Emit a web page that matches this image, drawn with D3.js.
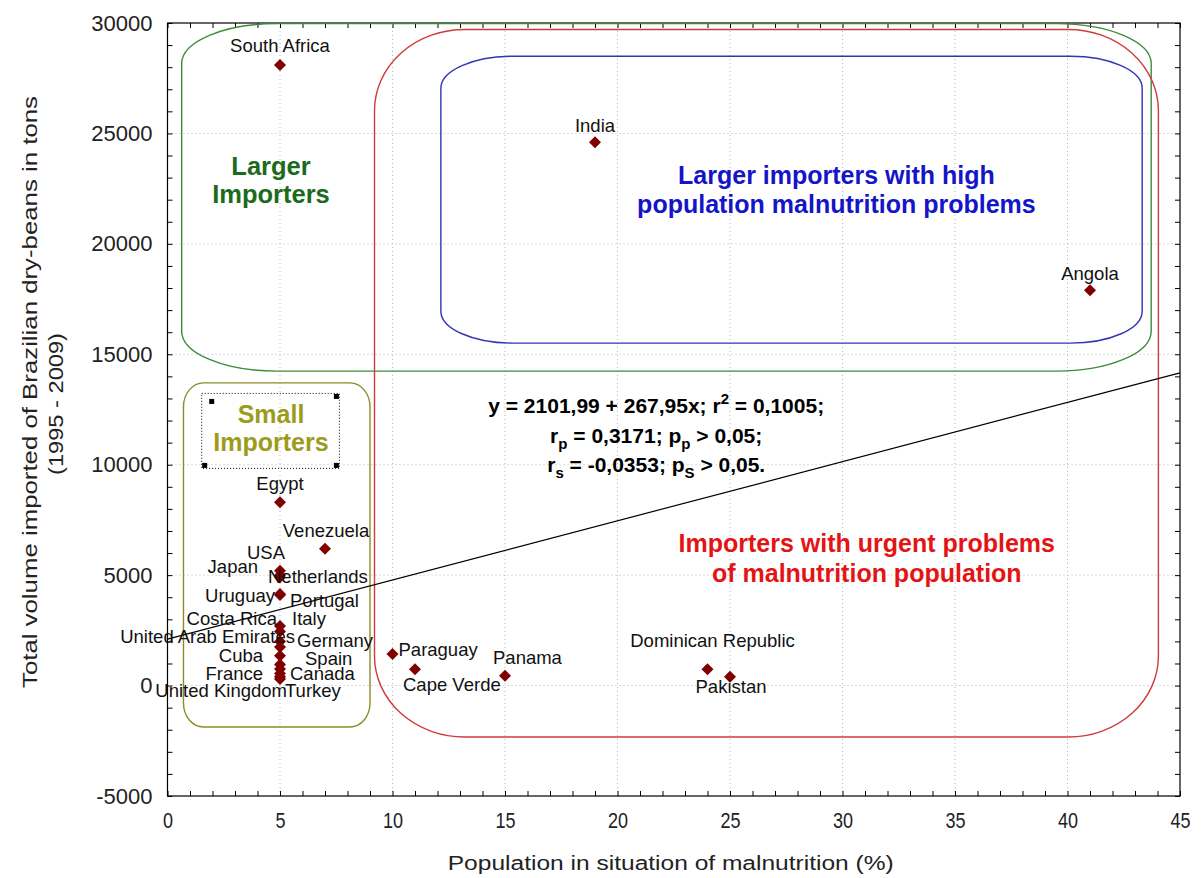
<!DOCTYPE html>
<html>
<head>
<meta charset="utf-8">
<script src="https://cdn.jsdelivr.net/npm/d3@7"></script>
<style>
  body { margin: 0; background: #fff; }
  text { font-family: "Liberation Sans", Arial, sans-serif; }
</style>
</head>
<body>
<svg id="chart" width="1202" height="878"></svg>
<script>
// data
const countries = ["South Africa", "India", "Angola", "Egypt", "Venezuela", "USA", "Japan", "Netherlands",
  "Uruguay", "Portugal", "Costa Rica", "Italy", "United Arab Emirates", "Germany", "Cuba", "Spain",
  "France", "Canada", "Turkey", "United Kingdom", "Paraguay", "Cape Verde", "Panama", "Dominican Republic", "Pakistan"];
const malnutrition = [5, 19, 41, 5, 7, 5, 5, 5, 5, 5, 5, 5, 5, 5, 5, 5, 5, 5, 5, 5, 10, 11, 15, 24, 25];
const importedTons = [28100, 24600, 17900, 8300, 6200, 5200, 4900, 5000, 4150, 4100, 2700, 2450, 2000, 1750,
  1350, 950, 750, 550, 400, 300, 1430, 740, 450, 740, 400];

const xTicks = [0, 5, 10, 15, 20, 25, 30, 35, 40, 45];
const yTicks = [-5000, 0, 5000, 10000, 15000, 20000, 25000, 30000];

const intercept = 2101.99, slope = 267.95;

// label placement next to each marker: [anchor, dx, dy] in px
const labelNudge = {
  "South Africa": ["middle", 0, -13], "India": ["middle", 0, -10], "Angola": ["middle", 0, -10],
  "Egypt": ["middle", 0, -12], "Venezuela": ["middle", 1, -12], "USA": ["end", 5, -12],
  "Japan": ["end", -22, -4], "Netherlands": ["start", -12, 8], "Uruguay": ["end", -5, 8],
  "Portugal": ["start", 10, 12], "Costa Rica": ["end", -3, -1], "Italy": ["start", 12, -6],
  "United Arab Emirates": ["end", 15, 2], "Germany": ["start", 17, 0], "Cuba": ["end", -17, 6],
  "Spain": ["start", 25, 0], "France": ["end", -17, 11], "Canada": ["start", 10, 7],
  "Turkey": ["start", 5, 20], "United Kingdom": ["end", 7, 18], "Paraguay": ["start", 6, 2],
  "Cape Verde": ["start", -12, 22], "Panama": ["start", -12, -12],
  "Dominican Republic": ["middle", 5, -22], "Pakistan": ["middle", 1, 16]
};

// grouping shapes drawn on the graph, in data units
const regions = [
  { x0: 0.63, x1: 43.72, y0: 14237, y1: 29970, rx: 95, ry: 40, color: "#3c8c3c" },
  { x0: 12.15, x1: 43.32, y0: 15505, y1: 28497, rx: 72, ry: 32, color: "#3434b4" },
  { x0: 9.2, x1: 44.04, y0: -2331, y1: 29706, rx: 90, ry: 81, color: "#d03a3a" },
  { x0: 0.71, x1: 9.0, y0: -1879, y1: 13707, rx: 20, ry: 24, color: "#8c8c28" }
];
const regionText = [
  { lines: ["Larger", "Importers"], x: 4.6, y: [23100, 21830], color: "#1c6a1c", size: 25.5 },
  { lines: ["Larger importers with high", "population malnutrition problems"], x: 29.73, y: [22730, 21380], color: "#1414c8", size: 25 },
  { lines: ["Importers with urgent problems", "of malnutrition population"], x: 31.08, y: [6050, 4690], color: "#e41414", size: 25 },
  { lines: ["Small", "Importers"], x: 4.6, y: [11870, 10600], color: "#9c9c1c", size: 25 }
];
const selBox = { x0: 1.52, x1: 7.64, y0: 9833, y1: 13228 };

const svg = d3.select("#chart");
const margin = { top: 23, right: 22, bottom: 82, left: 167.5 };
const W = 1202, H = 878;
const width = W - margin.left - margin.right;
const height = H - margin.top - margin.bottom;

svg.append("rect").attr("width", W).attr("height", H).attr("fill", "#fff");

const x = d3.scaleLinear().domain([0, 45]).range([0, width]);
const y = d3.scaleLinear().domain([-5000, 30000]).range([height, 0]);

const g = svg.append("g").attr("transform", `translate(${margin.left},${margin.top})`);

// dotted grid
g.selectAll(".gx").data(xTicks.slice(1, -1)).join("line")
  .attr("x1", d => x(d)).attr("x2", d => x(d)).attr("y1", 0).attr("y2", height)
  .attr("stroke", "#b8b8b8").attr("stroke-dasharray", "1,3");
g.selectAll(".gy").data(yTicks.slice(1, -1)).join("line")
  .attr("y1", d => y(d)).attr("y2", d => y(d)).attr("x1", 0).attr("x2", width)
  .attr("stroke", "#b8b8b8").attr("stroke-dasharray", "1,3");

// ticks on all four sides, pointing in
const minorX = d3.range(0, 46, 1), minorY = d3.range(-5000, 30001, 1000);
const tickAxes = [
  [d3.axisBottom(x).tickValues(minorX), `translate(0,${height})`],
  [d3.axisTop(x).tickValues(minorX), null],
  [d3.axisLeft(y).tickValues(minorY), null],
  [d3.axisRight(y).tickValues(minorY), `translate(${width},0)`]
];
tickAxes.forEach(([ax, tr]) => {
  const a = g.append("g").attr("transform", tr).call(ax.tickSize(-5).tickFormat(""));
  a.select(".domain").remove();
  a.selectAll("line").attr("stroke", "#000");
});

// labelled axes
const xAxis = g.append("g").attr("transform", `translate(0,${height})`)
  .call(d3.axisBottom(x).tickValues(xTicks).tickSize(0).tickPadding(16));
xAxis.select(".domain").remove();
// squeeze each tick label around its own origin, the reference uses a narrow face here
xAxis.selectAll("text").attr("font-size", 22).attr("fill", "#222")
  .attr("transform", "scale(0.82,1)");

const yAxis = g.append("g")
  .call(d3.axisLeft(y).tickValues(yTicks).tickSize(0).tickPadding(15).tickFormat(d => String(d)));
yAxis.select(".domain").remove();
yAxis.selectAll("text").attr("font-size", 22).attr("fill", "#222");

// frame
g.append("rect").attr("width", width).attr("height", height)
  .attr("fill", "none").attr("stroke", "#000").attr("stroke-width", 1.2);

// grouping shapes
g.selectAll(".region").data(regions).join("rect")
  .attr("x", d => x(d.x0)).attr("y", d => y(d.y1))
  .attr("width", d => x(d.x1) - x(d.x0)).attr("height", d => y(d.y0) - y(d.y1))
  .attr("rx", d => d.rx).attr("ry", d => d.ry)
  .attr("fill", "none").attr("stroke", d => d.color).attr("stroke-width", 1.4);

// dotted selection box with handles
g.append("rect")
  .attr("x", x(selBox.x0)).attr("y", y(selBox.y1))
  .attr("width", x(selBox.x1) - x(selBox.x0)).attr("height", y(selBox.y0) - y(selBox.y1))
  .attr("fill", "none").attr("stroke", "#000").attr("stroke-dasharray", "1,2");
[[selBox.x0, selBox.y1, 10, 8], [selBox.x1, selBox.y1, -3, 3], [selBox.x0, selBox.y0, 3, -3], [selBox.x1, selBox.y0, -3, -3]]
  .forEach(([hx, hy, ox, oy]) => {
    g.append("rect").attr("x", x(hx) + ox - 2.5).attr("y", y(hy) + oy - 2.5)
      .attr("width", 5).attr("height", 5).attr("fill", "#000");
  });

// regression line
g.append("line")
  .attr("x1", x(0)).attr("y1", y(intercept))
  .attr("x2", x(45)).attr("y2", y(intercept + slope * 45))
  .attr("stroke", "#000").attr("stroke-width", 1.2);

// region captions
regionText.forEach(t => {
  t.lines.forEach((line, i) => {
    g.append("text").attr("x", x(t.x)).attr("y", y(t.y[i]))
      .attr("text-anchor", "middle").attr("font-weight", "bold")
      .attr("font-size", t.size).attr("fill", t.color).text(line);
  });
});

// equation block
const eqX = x(21.72);
const eqLines = [
  [["y = 2101,99 + 267,95x; r", 0], ["2", -1], [" = 0,1005;", 0]],
  [["r", 0], ["p", 1], [" = 0,3171; p", 0], ["p", 1], [" > 0,05;", 0]],
  [["r", 0], ["s", 1], [" = -0,0353; p", 0], ["S", 1], [" > 0,05.", 0]]
];
const eqBase = [y(12350), y(11000), y(9680)];
eqLines.forEach((parts, i) => {
  const t = g.append("text").attr("x", eqX).attr("y", eqBase[i])
    .attr("text-anchor", "middle").attr("font-weight", "bold").attr("font-size", 21).attr("fill", "#000");
  let shift = 0;
  parts.forEach(([s, k]) => {
    const target = k === 1 ? 6 : k === -1 ? -9 : 0;
    t.append("tspan").attr("dy", target - shift)
      .attr("font-size", k === 0 ? 21 : 15).text(s);
    shift = target;
  });
});

// markers
const pts = countries.map((c, i) => ({ name: c, mx: malnutrition[i], my: importedTons[i] }));
g.selectAll(".pt").data(pts).join("path")
  .attr("transform", d => `translate(${x(d.mx)},${y(d.my)}) rotate(45)`)
  .attr("d", d3.symbol(d3.symbolSquare, 72))
  .attr("fill", "#800000");

// marker labels
g.selectAll(".lbl").data(pts).join("text")
  .attr("x", d => x(d.mx) + labelNudge[d.name][1])
  .attr("y", d => y(d.my) + labelNudge[d.name][2])
  .attr("text-anchor", d => labelNudge[d.name][0])
  .attr("font-size", 18.5).attr("fill", "#111")
  .text(d => d.name);

// axis titles
svg.append("text").attr("x", margin.left + width / 2 - 3).attr("y", 870)
  .attr("text-anchor", "middle").attr("font-size", 20).attr("fill", "#222")
  .attr("textLength", 446).attr("lengthAdjust", "spacingAndGlyphs")
  .text("Population in situation of malnutrition (%)");

const yt = svg.append("g").attr("transform", "translate(0,392) rotate(-90)");
yt.append("text").attr("x", 0).attr("y", 37).attr("text-anchor", "middle")
  .attr("font-size", 20).attr("fill", "#222")
  .attr("textLength", 592).attr("lengthAdjust", "spacingAndGlyphs")
  .text("Total volume imported of Brazilian dry-beans in tons");
yt.append("text").attr("x", -12).attr("y", 63).attr("text-anchor", "middle")
  .attr("font-size", 20).attr("fill", "#222")
  .attr("textLength", 142).attr("lengthAdjust", "spacingAndGlyphs")
  .text("(1995 - 2009)");
</script>
</body>
</html>
